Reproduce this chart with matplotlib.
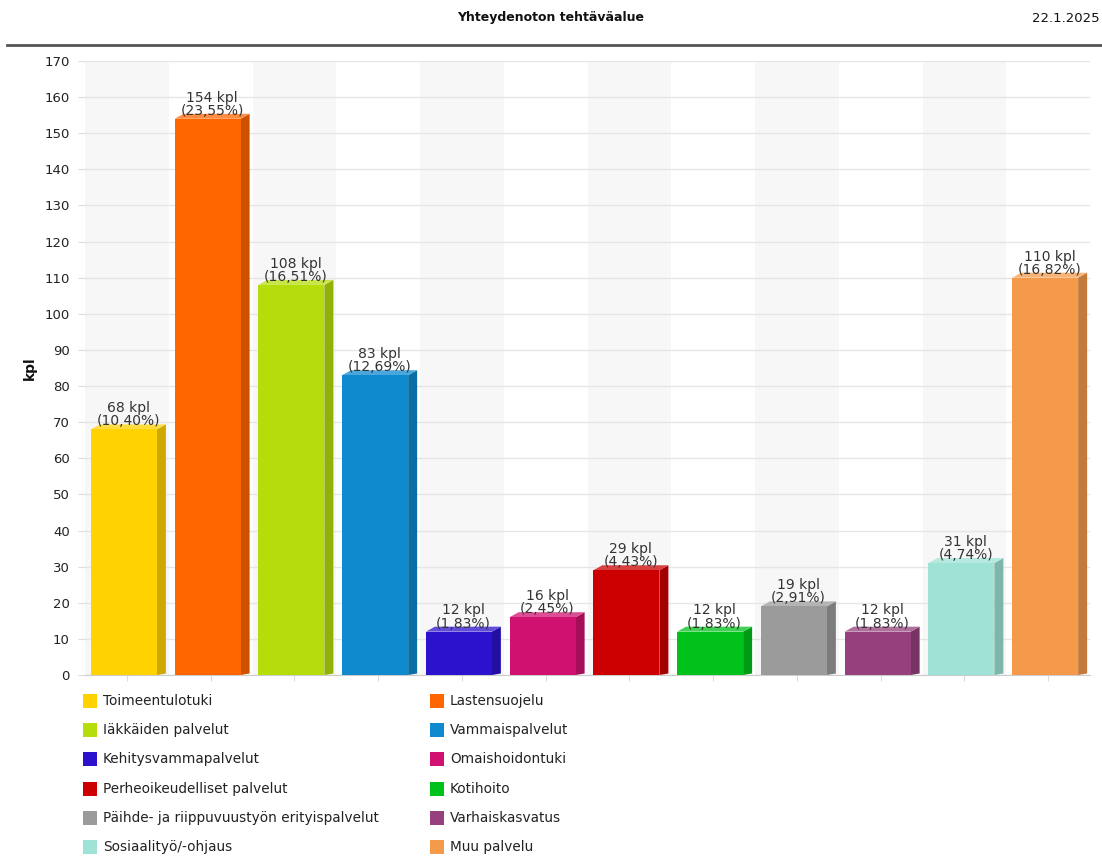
import matplotlib
matplotlib.use("Agg")
import matplotlib.pyplot as plt
from matplotlib.patches import Polygon, Rectangle
import matplotlib.colors as mcolors
import numpy as np

CATEGORIES = [
    "Toimeentulotuki", "Lastensuojelu", "Iäkkäiden palvelut", "Vammaispalvelut",
    "Kehitysvammapalvelut", "Omaishoidontuki", "Perheoikeudelliset palvelut",
    "Kotihoito", "Päihde- ja riippuvuustyön erityispalvelut", "Varhaiskasvatus",
    "Sosiaalityö/-ohjaus", "Muu palvelu",
]
COUNTS = [68, 154, 108, 83, 12, 16, 29, 12, 19, 12, 31, 110]
PERCENTS = ["10,40", "23,55", "16,51", "12,69", "1,83", "2,45", "4,43",
            "1,83", "2,91", "1,83", "4,74", "16,82"]
COLORS = ["#FFD200", "#FF6600", "#B5DD0B", "#0F8ACF", "#2C12CC", "#D0116F",
          "#CC0000", "#00C21A", "#9B9B9B", "#96407D", "#9EE3D6", "#F5994A"]

W, H = 1102, 864
fig = plt.figure(figsize=(W / 100, H / 100), dpi=100)
ax = fig.add_axes([85 / W, (H - 675) / H, (1090 - 85) / W, (675 - 61) / H])

n = len(COUNTS)
ax.set_xlim(-0.5, n - 0.5)
ax.set_ylim(0, 170)

# alternating column bands
for i in range(0, n, 2):
    ax.axvspan(i - 0.5, i + 0.5, color="#f7f7f7", zorder=0, lw=0)

ax.set_yticks(np.arange(0, 171, 10))
ax.grid(axis="y", color="#e6e6e6", lw=1, zorder=0.5)
ax.set_axisbelow(True)

# 3D-ish bars
px_x = (1090 - 85) / n           # pixels per category
px_y = (675 - 61) / 170          # pixels per unit
dx = 9 / px_x
dy = 5 / px_y
bw = 66 / px_x
off = -3 / px_x
x = np.arange(n) + off
bars = ax.bar(x, COUNTS, width=bw, color=COLORS, zorder=3, lw=0)
for b, c in zip(bars, COLORS):
    x0, x1, h = b.get_x(), b.get_x() + b.get_width(), b.get_height()
    rgb = np.array(mcolors.to_rgb(c))
    side = rgb * 0.8
    top = rgb + (1 - rgb) * 0.25
    ax.add_patch(Polygon([(x1, 0), (x1, h), (x1 + dx, h + dy), (x1 + dx, dy * 0.3)],
                         closed=True, color=side, lw=0, zorder=2.9))
    ax.add_patch(Polygon([(x0, h), (x1, h), (x1 + dx, h + dy), (x0 + dx, h + dy)],
                         closed=True, color=top, lw=0, zorder=2.9))

for b, v, p in zip(bars, COUNTS, PERCENTS):
    ax.text(b.get_x() + b.get_width() / 2 + dx / 2, v + 0.3, f"{v} kpl\n({p}%)",
            ha="center", va="bottom", fontsize=10, color="#333333",
            linespacing=0.92, zorder=4)

ax.set_xticks(np.arange(n))
ax.set_xticklabels([])
ax.tick_params(axis="x", length=4, color="#dddddd")
ax.tick_params(axis="y", length=5, color="#dddddd", labelsize=9.5,
               labelcolor="#222222", pad=6)
for s in ["top", "right", "left"]:
    ax.spines[s].set_visible(False)
ax.spines["bottom"].set_color("#cccccc")

fig.text(30 / W, (H - 368) / H, "kpl", rotation=90, ha="center", va="center",
         fontsize=10, fontweight="bold", color="#111111")

# header
fig.text(551 / W, (H - 18) / H, "Yhteydenoton tehtäväalue", ha="center",
         va="center", fontsize=9, fontweight="bold", color="#111111",
         family="Liberation Sans Narrow")
fig.text(1100 / W, (H - 18) / H, "22.1.2025", ha="right", va="center",
         fontsize=9.5, color="#111111", family="Liberation Sans Narrow")
fig.add_artist(plt.Line2D([7 / W, 1], [(H - 45) / H] * 2, color="#555555", lw=2))

# legend, row-major in two columns
for i, (lab, c) in enumerate(zip(CATEGORIES, COLORS)):
    col, row = i % 2, i // 2
    lx = 83 if col == 0 else 430
    ly = H - (701 + row * 29.2)
    fig.add_artist(Rectangle(((lx) / W, (ly - 7) / H), 14 / W, 14 / H,
                             transform=fig.transFigure, color=c, lw=0))
    fig.text((lx + 20) / W, ly / H, lab, ha="left", va="center",
             fontsize=9.8, color="#222222")

fig.savefig("out.png", dpi=100)
